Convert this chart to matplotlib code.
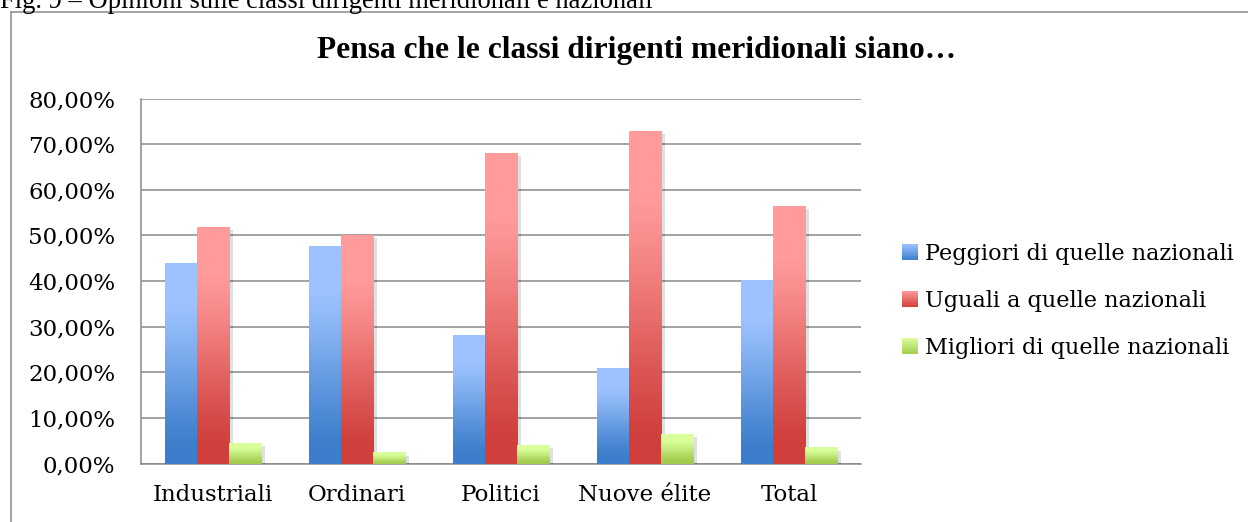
import numpy as np
import matplotlib
matplotlib.use("Agg")
import matplotlib.pyplot as plt
from matplotlib.lines import Line2D
from matplotlib.patches import Rectangle
from matplotlib.legend_handler import HandlerBase
from matplotlib.ticker import FuncFormatter
import matplotlib.patheffects as pe

# ---- data ----
categories = ["Industriali", "Ordinari", "Politici", "Nuove élite", "Total"]
series_names = ["Peggiori di quelle nazionali", "Uguali a quelle nazionali", "Migliori di quelle nazionali"]
peggiori = [0.439, 0.477, 0.282, 0.209, 0.402]
uguali = [0.519, 0.501, 0.681, 0.729, 0.565]
migliori = [0.045, 0.025, 0.041, 0.065, 0.036]
yticks = [0.0, 0.1, 0.2, 0.3, 0.4, 0.5, 0.6, 0.7, 0.8]
title = "Pensa che le classi dirigenti meridionali siano…"
caption = "Fig. 9 – Opinioni sulle classi dirigenti meridionali e nazionali"

# gradient colours (top light, bottom dark)
grads = [
    ("#9DC3FF", "#3C7ECB"),
    ("#FF9B9A", "#D03F3C"),
    ("#DAFF9B", "#A3CC4F"),
]

W, H = 1248, 522
fig = plt.figure(figsize=(W / 100, H / 100), dpi=100)
fig.patch.set_facecolor("white")

axl, axr, axt, axb = 141, 861, 98.5, 463.5
ax = fig.add_axes([axl / W, 1 - axb / H, (axr - axl) / W, (axb - axt) / H])

serif = "DejaVu Serif"
fs = 16.5
gray = "#878787"

x = np.arange(len(categories))
bw = 0.2236
vals = [peggiori, uguali, migliori]


def grad_image(top, bottom, n=256):
    c_top = np.array(matplotlib.colors.to_rgb(top))
    c_bot = np.array(matplotlib.colors.to_rgb(bottom))
    t = np.linspace(0, 1, n)  # 0 bottom -> 1 top
    s = np.clip((t - 0.08) / (0.80 - 0.08), 0, 1)
    s = s * s * (3 - 2 * s) * 0.3 + s * 0.7
    img = c_bot[None, :] * (1 - s[:, None]) + c_top[None, :] * s[:, None]
    return img[:, None, :]


for i, (v, (ctop, cbot)) in enumerate(zip(vals, grads)):
    bars = ax.bar(x + (i - 1) * bw, v, width=bw, color=cbot, zorder=3, linewidth=0)
    img = grad_image(ctop, cbot)
    for b in bars:
        b.set_path_effects([pe.SimplePatchShadow(offset=(2.5, -2.5), shadow_rgbFace="black", alpha=0.12), pe.Normal()])
        x0, y0 = b.get_x(), b.get_y()
        w, h = b.get_width(), b.get_height()
        im = ax.imshow(img, extent=[x0, x0 + w, y0, y0 + h], origin="lower",
                       aspect="auto", zorder=3.5, interpolation="bilinear")
        im.set_clip_path(b)

ax.set_xlim(-0.5, len(categories) - 0.5)
ax.set_ylim(0, 0.8)
ax.set_aspect("auto")
ax.set_yticks(yticks)
ax.yaxis.set_major_formatter(FuncFormatter(lambda v, p: f"{v*100:.2f}%".replace(".", ",")))
ax.set_xticks(x)
ax.set_xticklabels(categories)
ax.tick_params(axis="both", length=0, labelsize=fs)
ax.tick_params(axis="y", pad=18.5)
ax.tick_params(axis="x", pad=15)
for lab in ax.get_xticklabels() + ax.get_yticklabels():
    lab.set_fontfamily(serif)
ax.grid(axis="y", color=gray, linewidth=1.5 * 0.72, zorder=1)
ax.set_axisbelow(True)
for s in ["top", "right"]:
    ax.spines[s].set_visible(False)
for s in ["left", "bottom"]:
    ax.spines[s].set_color(gray)
    ax.spines[s].set_linewidth(1.5 * 0.72)


class GradHandler(HandlerBase):
    def __init__(self, top, bottom):
        super().__init__()
        self.top, self.bottom = top, bottom

    def create_artists(self, legend, orig_handle, xdescent, ydescent, width, height, fontsize, trans):
        n = 8
        ct = np.array(matplotlib.colors.to_rgb(self.top))
        cb = np.array(matplotlib.colors.to_rgb(self.bottom))
        arts = []
        for k in range(n):
            f = (k + 0.5) / n
            c = cb * (1 - f) + ct * f
            r = Rectangle((-xdescent, -ydescent + height * k / n), width, height / n + 0.3,
                          facecolor=c, edgecolor="none", transform=trans)
            arts.append(r)
        return arts


handles = [Rectangle((0, 0), 1, 1) for _ in series_names]
hmap = {h: GradHandler(t, b) for h, (t, b) in zip(handles, grads)}
leg = fig.legend(handles, series_names, handler_map=hmap, loc="upper left",
                 bbox_to_anchor=(902 / W, 1 - 243 / H), frameon=False,
                 prop={"family": serif, "size": 16.1}, handlelength=0.7, handleheight=0.7,
                 handletextpad=0.32, labelspacing=1.12, borderpad=0, borderaxespad=0)

fig.text(636.5 / W, 1 - 58 / H, title, ha="center", va="baseline",
         fontfamily="Liberation Serif", fontweight="bold", fontsize=22.6)
fig.text(0.5 / W, 1 - 8 / H, caption, ha="left", va="baseline",
         fontfamily="Liberation Serif", fontsize=19.1)

# outer frame (left and top edges visible)
fig.add_artist(Line2D([11 / W, 11 / W], [0, 1 - 12 / H], color="#8C8C8C", linewidth=1.1, transform=fig.transFigure))
fig.add_artist(Line2D([11 / W, 1], [1 - 12 / H, 1 - 12 / H], color="#8C8C8C", linewidth=1.1, transform=fig.transFigure))

fig.savefig("out.png", dpi=100)
